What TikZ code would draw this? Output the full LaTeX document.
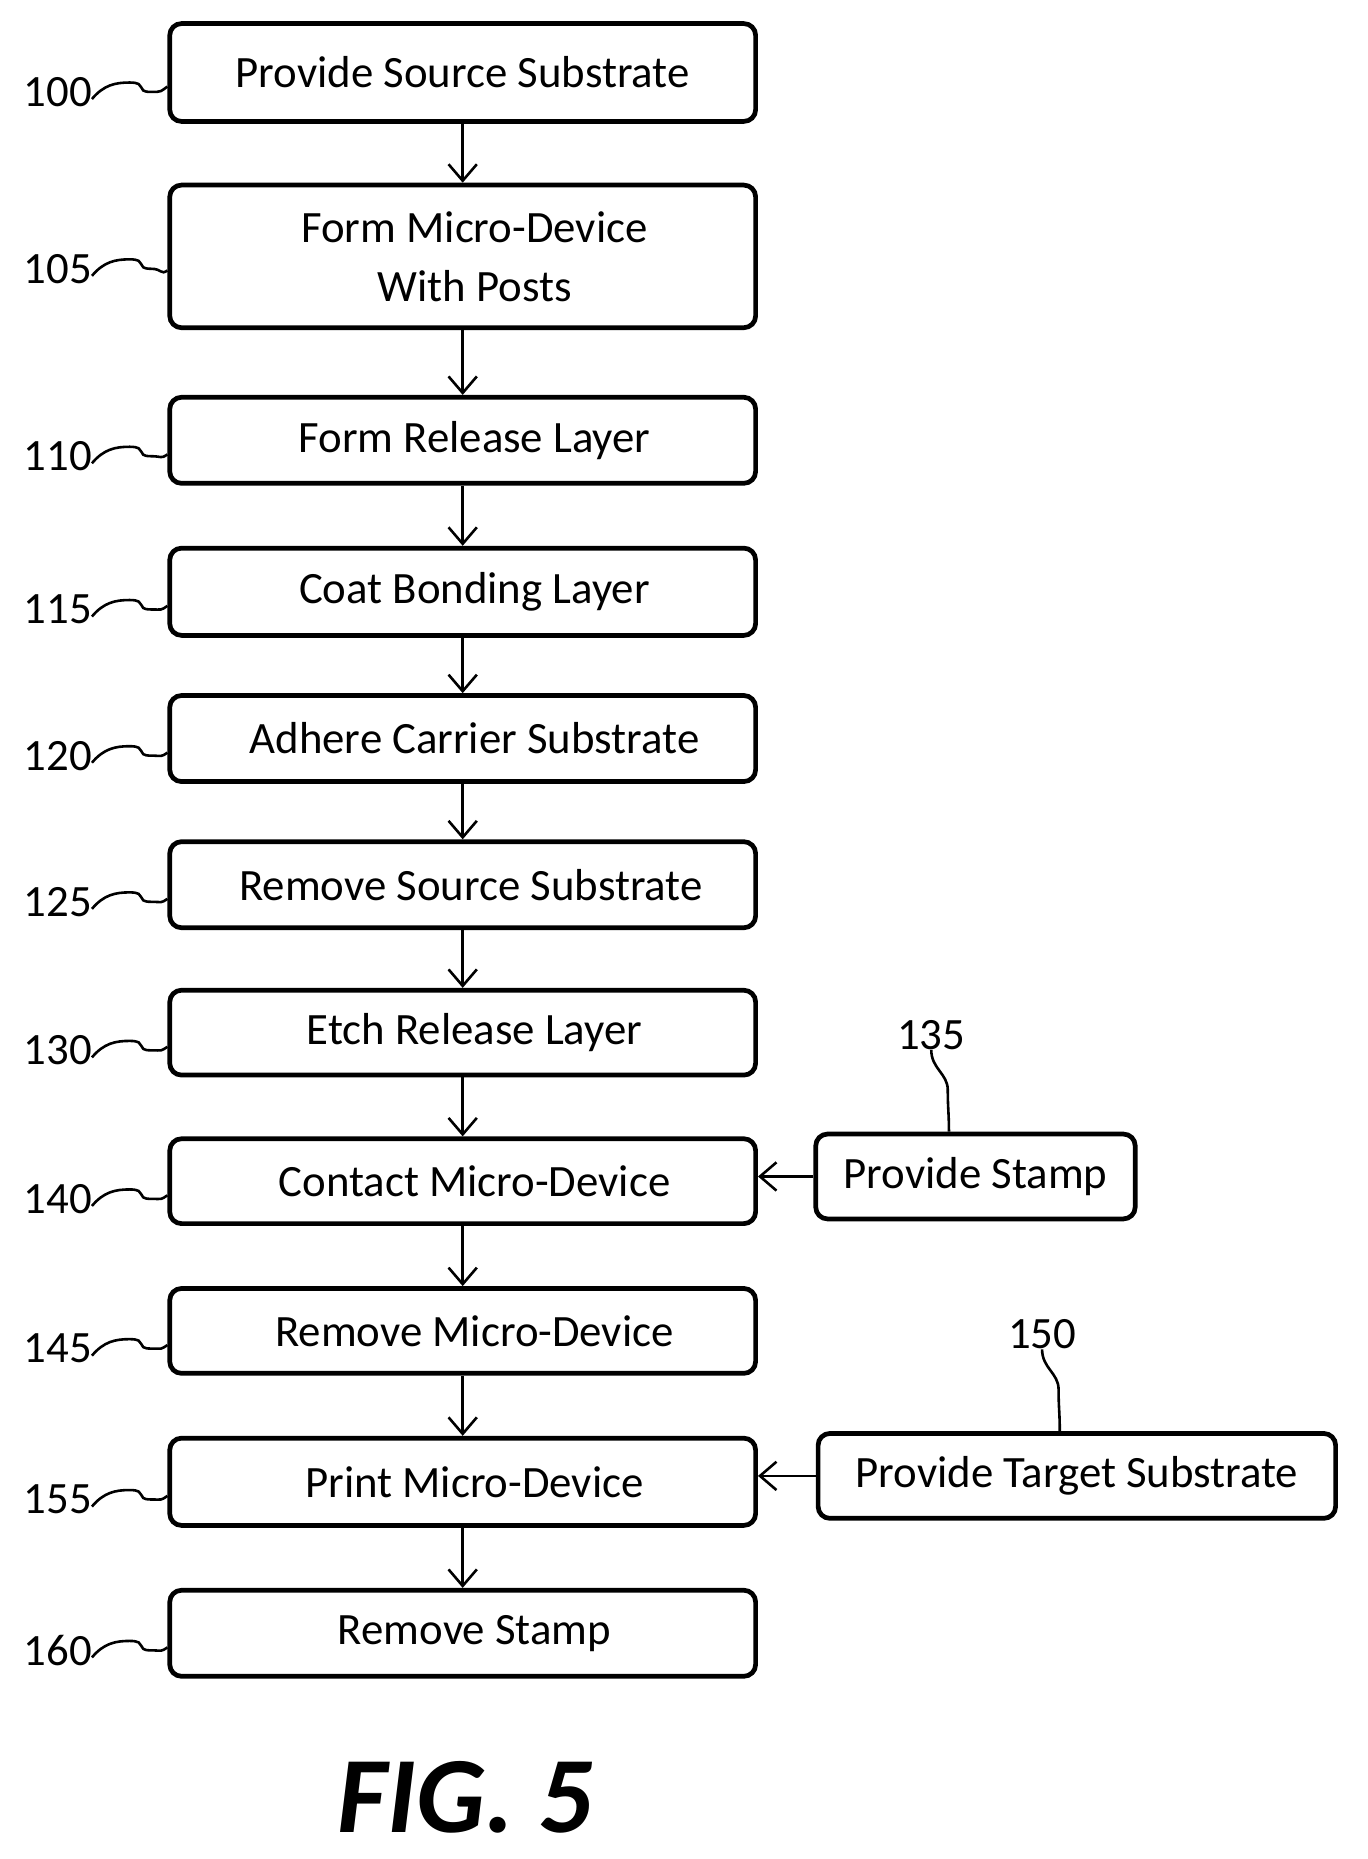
\documentclass[tikz,border=0pt]{standalone}
\usepackage{fontspec}
\setmainfont{Carlito}
\usetikzlibrary{arrows.meta}
\begin{document}
\begin{tikzpicture}[x=1pt,y=-1pt,
  box/.style={draw,line width=4pt,rounded corners=10pt,inner sep=0pt,font=\fontsize{38}{50}\selectfont,align=center},
  lab/.style={font=\fontsize{38}{44}\selectfont,inner sep=0pt},
  sq/.style={line width=2.2pt},
  arr/.style={line width=2.2pt,-{Straight Barb[length=14pt,width=24pt,line width=2.2pt]}}]
\useasboundingbox (0,0) rectangle (1160,1577);
\node[box,minimum width=497pt,minimum height=83pt] (b100) at (392.5,61.5) {Provide Source Substrate};
\node[box,minimum width=497pt,minimum height=121pt] (b105) at (392.5,217.5) {\hspace*{20pt}Form Micro-Device\\\hspace*{20pt}With Posts};
\node[box,minimum width=497pt,minimum height=73pt] (b110) at (392.5,373.5) {\hspace*{20pt}Form Release Layer};
\node[box,minimum width=497pt,minimum height=74pt] (b115) at (392.5,502) {\hspace*{20pt}Coat Bonding Layer};
\node[box,minimum width=497pt,minimum height=73pt] (b120) at (392.5,626.5) {\hspace*{20pt}Adhere Carrier Substrate};
\node[box,minimum width=497pt,minimum height=73pt] (b125) at (392.5,750.5) {\hspace*{14pt}Remove Source Substrate};
\node[box,minimum width=497pt,minimum height=72pt] (b130) at (392.5,876) {\hspace*{20pt}Etch Release Layer};
\node[box,minimum width=497pt,minimum height=72pt] (b140) at (392.5,1002) {\hspace*{20pt}Contact Micro-Device};
\node[box,minimum width=497pt,minimum height=72pt] (b145) at (392.5,1129) {\hspace*{20pt}Remove Micro-Device};
\node[box,minimum width=497pt,minimum height=74pt] (b155) at (392.5,1257) {\hspace*{20pt}Print Micro-Device};
\node[box,minimum width=497pt,minimum height=73pt] (b160) at (392.5,1385.5) {\hspace*{20pt}Remove Stamp};
\node[box,minimum width=271pt,minimum height=72pt] (b135) at (827.5,998) {Provide Stamp};
\node[box,minimum width=439pt,minimum height=72pt] (b150) at (913.5,1252) {Provide Target Substrate};
\foreach \a/\b in {b100/b105,b105/b110,b110/b115,b115/b120,b120/b125,b125/b130,b130/b140,b140/b145,b145/b155,b155/b160}
  \draw[arr] (\a.south) -- (\b.north);
\draw[arr] (b135.west) -- (b140.east|-b135.west);
\draw[arr] (b150.west) -- (b155.east|-b150.west);
\foreach \n/\y in {100/78,105/228,110/387,115/517,120/641,125/765,130/891,140/1017,145/1144,155/1272,160/1400}{
  \node[lab,anchor=east] (l\n) at (78,\y) {\n};
  \draw[sq] ([yshift=-6pt]l\n.east) .. controls +(10,-12) and +(-12,0) .. +(32,-14) .. controls +(16,0) and +(-14,0) .. +(50,-6) .. controls +(10,0) and +(-6,4) .. ([yshift=-12pt]b\n.west);
}
\node[lab] (l135) at (790,878) {135};
\draw[sq] (l135.south) .. controls +(0,16) and +(0,-14) .. ++(14,34) .. controls +(0,16) and +(0,-16) .. (b135.north-|805,0);
\node[lab] (l150) at (884,1132) {150};
\draw[sq] (l150.south) .. controls +(0,16) and +(0,-14) .. ++(14,34) .. controls +(0,16) and +(0,-16) .. (b150.north-|899,0);
\node[font=\fontsize{92}{100}\selectfont\bfseries\itshape] (fig) at (395,1525) {FIG. 5};
\end{tikzpicture}
\end{document}
